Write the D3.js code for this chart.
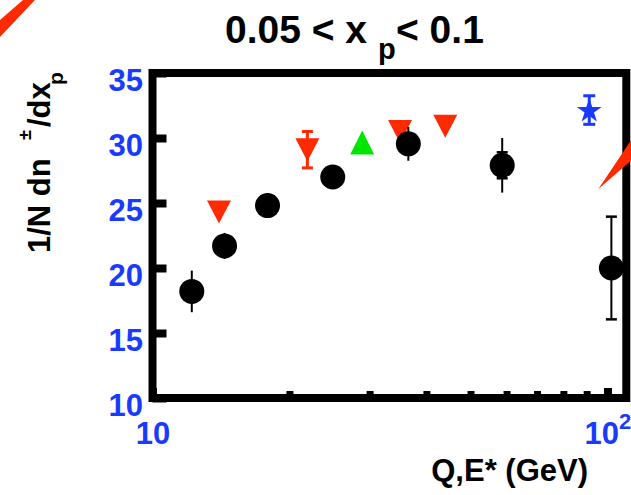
<!DOCTYPE html>
<html>
<head>
<meta charset="utf-8">
<script src="https://cdn.jsdelivr.net/npm/d3@7"></script>
<style>
  html, body { margin: 0; padding: 0; background: #fff; }
  svg { display: block; font-family: "Liberation Sans", Arial, Helvetica, sans-serif; font-weight: bold; }
</style>
</head>
<body>
<svg id="chart" width="631" height="495"></svg>
<script>
// Charged-hadron multiplicity 1/N dn/dx_p versus scale, bin 0.05 < x_p < 0.1

// Filled circles (with total error, and inner cap where shown)
const circleQ   = [12.2, 14.4, 17.9, 24.9, 36.5, 58.7, 102];
const circleVal = [18.2, 21.7, 24.8, 27.0, 29.55, 27.9, 20.0];
const circleErr = [1.6, 1.0, 0.3, 0.3, 1.3, 2.1, 3.95];
const circleCap = [0, 0, 0, 0, 0, 1.0, 3.95];

// Downward red triangles
const downQ   = [14.0, 21.9, 35.0, 44.0];
const downVal = [24.3, 29.1, 30.5, 30.9];
const downErr = [0, 1.4, 0, 0];

// Upward green triangle
const upQ   = [28.9];
const upVal = [29.65];

// Blue star
const starQ   = [91.2];
const starVal = [32.15];
const starErr = [1.1];

// Red curves from the neighbouring panels that reach into this one (Q, value)
const curveA = [[4.575, 38.95], [5.253, 40.77], [5.57, 40.77], [4.575, 37.61]];
const curveB = [[95.5, 26.08], [114, 30.1], [114, 28.4]];

// Axis ticks
const yTicks      = [10, 15, 20, 25, 30, 35];
const xMajorTicks = [10, 100];
const xMinorTicks = [20, 30, 40, 50, 60, 70, 80, 90];

const RED = "#ff2a00", GREEN = "#00e600", BLUE = "#1a3aff", BLACK = "#000";

const svg = d3.select("#chart");

const x = d3.scaleLog().domain([10, 110]).range([152.5, 626.3]);
const y = d3.scaleLinear().domain([10, 35]).range([398, 73]);

// ---- title ----
const title = svg.append("text").attr("y", 43).attr("font-size", 39).attr("fill", BLACK);
title.append("tspan").attr("x", 225).text("0.05 < x ");
title.append("tspan").attr("x", 378).attr("y", 59).attr("font-size", 29).text("p");
title.append("tspan").attr("x", 396).attr("y", 43).text("< 0.1");

// ---- y-axis title (rotated) ----
const ylab = svg.append("text")
  .attr("transform", "translate(50,253) rotate(-90)")
  .attr("font-size", 31).attr("fill", BLACK);
ylab.append("tspan").attr("x", 0).attr("y", 0).text("1/N dn");
ylab.append("tspan").attr("x", 113).attr("y", -19).attr("font-size", 18).text("±");
ylab.append("tspan").attr("x", 126).attr("y", 0).text("/dx");
ylab.append("tspan").attr("x", 168).attr("y", 13).attr("font-size", 21).text("p");

// ---- x-axis title ----
svg.append("text")
  .attr("x", 588).attr("y", 481)
  .attr("text-anchor", "end")
  .attr("font-size", 31).attr("fill", BLACK)
  .text("Q,E* (GeV)");

// ---- red curve outside the frame (top left) ----
const lineGen = d3.line().x(d => x(d[0])).y(d => y(d[1]));
svg.append("path").attr("d", lineGen(curveA) + "Z").attr("fill", RED);

// ---- y axis ----
const gy = svg.append("g")
  .attr("transform", `translate(${x(10)},0)`)
  .call(d3.axisLeft(y).tickValues(yTicks).tickSizeInner(-14).tickSizeOuter(0).tickPadding(9.5));
gy.select(".domain").remove();
gy.selectAll(".tick line").attr("stroke", BLACK).attr("stroke-width", 8);
gy.selectAll(".tick text")
  .attr("fill", BLUE).attr("font-size", 31).attr("font-family", null)
  .attr("dy", "0.58em");

// ---- x axis: minor ticks ----
const gxMinor = svg.append("g")
  .attr("transform", `translate(0,${y(10)})`)
  .call(d3.axisBottom(x).tickValues(xMinorTicks).tickSizeInner(-7).tickSizeOuter(0).tickFormat(""));
gxMinor.select(".domain").remove();
gxMinor.selectAll(".tick line").attr("stroke", BLACK).attr("stroke-width", 7);

// ---- x axis: major ticks with 10^n labels ----
const gx = svg.append("g")
  .attr("transform", `translate(0,${y(10)})`)
  .call(d3.axisBottom(x).tickValues(xMajorTicks).tickSizeInner(-10).tickSizeOuter(0).tickFormat(""));
gx.select(".domain").remove();
gx.selectAll(".tick line").attr("stroke", BLACK).attr("stroke-width", 8);
gx.selectAll(".tick text").each(function(d) {
  const t = d3.select(this)
    .attr("fill", BLUE).attr("font-size", 31).attr("font-family", null)
    .attr("y", 46).attr("dy", null).attr("text-anchor", "middle");
  const exp = Math.round(Math.log10(d));
  if (exp === 1) {
    t.text("10");
  } else {
    t.append("tspan").text("10");
    t.append("tspan").attr("dy", -15).attr("font-size", 22).text(String(exp));
  }
});

// ---- frame ----
svg.append("rect")
  .attr("x", x(10)).attr("y", y(35))
  .attr("width", x(110) - x(10)).attr("height", y(10) - y(35))
  .attr("fill", "none").attr("stroke", BLACK).attr("stroke-width", 8);

// ---- data ----
const plot = svg.append("g");

// red downward triangles
const downs = downQ.map((q, i) => ({ q, v: downVal[i], e: downErr[i] }));
const capW = 11;
downs.filter(d => d.e > 0).forEach(d => {
  const cx = x(d.q), y1 = y(d.v + d.e), y0 = y(d.v - d.e);
  plot.append("line").attr("x1", cx).attr("x2", cx).attr("y1", y1).attr("y2", y0)
    .attr("stroke", RED).attr("stroke-width", 3);
  [y1, y0].forEach(yy => plot.append("line")
    .attr("x1", cx - capW / 2).attr("x2", cx + capW / 2).attr("y1", yy).attr("y2", yy)
    .attr("stroke", RED).attr("stroke-width", 3));
});
plot.selectAll("path.down").data(downs).join("path")
  .attr("class", "down")
  .attr("d", d => {
    const cx = x(d.q), cy = y(d.v);
    return `M${cx - 12},${cy - 11.5}L${cx + 12},${cy - 11.5}L${cx},${cy + 11.5}Z`;
  })
  .attr("fill", RED);

// green upward triangle
const ups = upQ.map((q, i) => ({ q, v: upVal[i] }));
plot.selectAll("path.up").data(ups).join("path")
  .attr("class", "up")
  .attr("d", d => {
    const cx = x(d.q), cy = y(d.v);
    return `M${cx - 12},${cy + 12}L${cx + 12},${cy + 12}L${cx},${cy - 12}Z`;
  })
  .attr("fill", GREEN);

// black circles with error bars
const circles = circleQ.map((q, i) => ({ q, v: circleVal[i], e: circleErr[i], c: circleCap[i] }));
circles.forEach(d => {
  const cx = x(d.q);
  plot.append("line").attr("x1", cx).attr("x2", cx)
    .attr("y1", y(d.v + d.e)).attr("y2", y(d.v - d.e))
    .attr("stroke", BLACK).attr("stroke-width", 2);
  if (d.c > 0) {
    [y(d.v + d.c), y(d.v - d.c)].forEach(yy => plot.append("line")
      .attr("x1", cx - 5.5).attr("x2", cx + 5.5).attr("y1", yy).attr("y2", yy)
      .attr("stroke", BLACK).attr("stroke-width", 2.5));
  }
});
plot.selectAll("circle.pt").data(circles).join("circle")
  .attr("class", "pt")
  .attr("cx", d => x(d.q)).attr("cy", d => y(d.v)).attr("r", 12.5)
  .attr("fill", BLACK);

// blue star with error bar
const stars = starQ.map((q, i) => ({ q, v: starVal[i], e: starErr[i] }));
stars.forEach(d => {
  const cx = x(d.q), y1 = y(d.v + d.e), y0 = y(d.v - d.e);
  plot.append("line").attr("x1", cx).attr("x2", cx).attr("y1", y1).attr("y2", y0)
    .attr("stroke", BLUE).attr("stroke-width", 3);
  [y1, y0].forEach(yy => plot.append("line")
    .attr("x1", cx - 6).attr("x2", cx + 6).attr("y1", yy).attr("y2", yy)
    .attr("stroke", BLUE).attr("stroke-width", 3));
});
plot.selectAll("path.star").data(stars).join("path")
  .attr("class", "star")
  .attr("transform", d => `translate(${x(d.q)},${y(d.v) + 1})`)
  .attr("d", d3.symbol().type(d3.symbolStar).size(190)())
  .attr("fill", BLUE);

// red curve crossing the right edge
svg.append("path").attr("d", lineGen(curveB) + "Z").attr("fill", RED);
</script>
</body>
</html>
